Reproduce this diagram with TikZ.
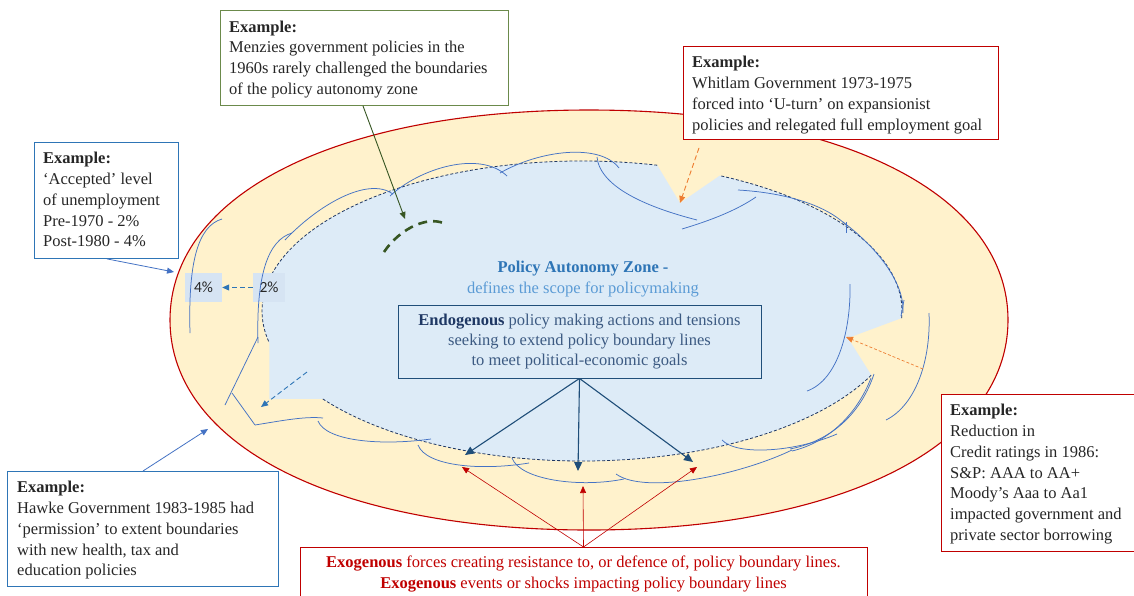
\documentclass[tikz,border=0pt]{standalone}
\usepackage{fontspec}
\setmainfont{Liberation Serif}
\newfontfamily\calfont{Carlito}
\usetikzlibrary{arrows.meta,calc}
\definecolor{yel}{HTML}{FFF2CC}
\definecolor{redC}{HTML}{C00000}
\definecolor{inblue}{HTML}{DDEBF7}
\definecolor{pctblue}{HTML}{D6E4F3}
\definecolor{navy}{HTML}{203864}
\definecolor{wave}{HTML}{4472C4}
\definecolor{bblue}{HTML}{2E75B6}
\definecolor{lblue}{HTML}{5B9BD5}
\definecolor{dgreen}{HTML}{375623}
\definecolor{boxgreen}{HTML}{6B8A4B}
\definecolor{orangeC}{HTML}{ED7D31}
\definecolor{txt}{HTML}{262626}
\definecolor{endo}{HTML}{1F4E79}
\definecolor{endotxt}{HTML}{3C5A82}
\definecolor{endobold}{HTML}{1F3864}
\begin{document}
\begin{tikzpicture}[x=1pt,y=-1pt,
  every node/.style={font=\fontsize{16.5}{20.8}\selectfont, text=txt},
  frame/.style={draw=#1, line width=0.9pt, fill=white, anchor=north west, inner sep=0pt},
  boxtext/.style={anchor=north west, align=left, inner sep=0pt},
  wav/.style={draw=wave, line width=0.75pt},
  tipS/.style={-{Triangle[length=7pt,width=6pt]}},
  tipL/.style={-{Triangle[length=9pt,width=8pt]}},
  pct/.style={fill=pctblue, inner sep=0pt, minimum height=29pt, font=\calfont\fontsize{15.5}{18}\selectfont},
  ell/.style={x radius=320, y radius=150},
]
\fill[white] (0,0) rectangle (1134,595);
\useasboundingbox (0,0) rectangle (1134,595);
\clip (0,0) rectangle (1134,595);

% outer zone
\filldraw[fill=yel, draw=redC, line width=1.1pt] (1008,320) .. controls (1008,446) and (840.4,530) .. (589,530) .. controls (337.6,530) and (170,446) .. (170,320) .. controls (170,194) and (337.6,110) .. (589,110) .. controls (840.4,110) and (1008,194) .. (1008,320) -- cycle;

% inner policy autonomy zone
\begin{scope}[shift={(582,311)}]
\fill[inblue] (283.6:320 and 150) arc[start angle=283.6,end angle=167.7,ell] -- (-312.6,88) -- (144.1:320 and 150) arc[start angle=144.1,end angle=25.3,ell] -- (266,27) -- (2.7:320 and 150) arc[start angle=2.7,end angle=-64.5,ell] -- (98,-108) -- cycle;
\draw[navy, line width=0.8pt, dash pattern=on 3pt off 2pt]
  (283.6:320 and 150) arc[start angle=283.6,end angle=167.7,ell]
  (144.1:320 and 150) arc[start angle=144.1,end angle=25.3,ell]
  (2.7:320 and 150) arc[start angle=2.7,end angle=-64.5,ell];
\end{scope}

% percentage labels
\node[pct, minimum width=37pt] (p4) at (203.5,287.5) {4\%};
\node[pct, minimum width=32pt] (p2) at (269,287.5) {2\%};

% boundary lines
\draw[wav] (222,219) .. controls (198,226) and (188,262) .. (190,333);
\draw[wav] (292,233) .. controls (268,240) and (256,275) .. (258,343);
\draw[wav] (285,240) .. controls (318,205) and (368,176) .. (393,194);
\draw[wav] (390,196) .. controls (420,168) and (480,150) .. (507,176);
\draw[wav] (500,173) .. controls (540,150) and (600,143) .. (619,168);
\draw[wav] (597,157) .. controls (600,188) and (650,208) .. (697,220);
\draw[wav] (682,229) .. controls (712,220) and (737,210) .. (756,197);
\draw[wav] (738,190) .. controls (790,193) and (828,207) .. (846,225);
\draw[wav] (846,222) -- (846,233);
\draw[wav] (843,222) .. controls (880,250) and (905,285) .. (903,313);
\draw[wav] (904,300) -- (901,316);
\draw[wav] (850,284) .. controls (851,330) and (838,380) .. (807,391);
\draw[wav] (929,313) .. controls (931,360) and (916,405) .. (886,420);
\draw[wav] (874,374) .. controls (862,410) and (835,440) .. (790,449);
\draw[wav] (871,378) .. controls (858,412) and (830,442) .. (792,451);
\draw[wav] (722,440) .. controls (737,456) and (795,452) .. (837,434);
\draw[wav] (616,474) .. controls (645,495) and (740,475) .. (792,450);
\draw[wav] (512,458) .. controls (520,480) and (580,488) .. (624,479);
\draw[wav] (418,445) .. controls (426,466) and (480,471) .. (529,463);
\draw[wav] (318,421) .. controls (326,441) and (380,446) .. (431,439);
\draw[wav] (255,425) .. controls (280,421) and (305,416) .. (323,418);
\draw[wav] (232,393) -- (255,425);
\draw[wav] (258,337) -- (225,405);

% green dashed boundary
\draw[dgreen, line width=2.6pt, dash pattern=on 9pt off 6pt] (384,252) .. controls (400,228) and (430,214) .. (447,225);

% central labels
\node[anchor=north, inner sep=0pt, align=center] (paz) at (583,261)
  {\textcolor{bblue}{\textbf{Policy Autonomy Zone -}}\\\textcolor{lblue}{defines the scope for policymaking}};
\node[draw=endo, line width=0.9pt, minimum width=363pt, minimum height=73pt, inner sep=0pt, align=center, text=endotxt, font=\fontsize{16.5}{20}\selectfont] (endo) at (579.5,341.5)
  {\textcolor{endobold}{\textbf{Endogenous}} policy making actions and tensions\\seeking to extend policy boundary lines\\to meet political-economic goals};
\node[draw=redC, line width=0.9pt, fill=white, minimum width=567pt, minimum height=53pt, inner sep=0pt, align=center, text=redC, anchor=north] (exo) at (583.5,547)
  {\textbf{Exogenous} forces creating resistance to, or defence of, policy boundary lines.\\\textbf{Exogenous} events or shocks impacting policy boundary lines};

% example boxes
\node[frame=boxgreen, minimum width=288pt, minimum height=95pt] (menzies) at (220,10) {};
\node[boxtext] (menziesT) at ($(menzies.north west)+(9,10.5)$)
  {\textbf{Example:}\\Menzies government policies in the\\1960s rarely challenged the boundaries\\of the policy autonomy zone};
\node[frame=redC, minimum width=315pt, minimum height=93pt] (whitlam) at (683,46) {};
\node[boxtext] (whitlamT) at ($(whitlam.north west)+(9,10)$)
  {\textbf{Example:}\\Whitlam Government 1973-1975\\forced into ‘U-turn’ on expansionist\\policies and relegated full employment goal};
\node[frame=bblue, minimum width=144pt, minimum height=116pt] (unemp) at (34,142) {};
\node[boxtext] (unempT) at ($(unemp.north west)+(9,10)$)
  {\textbf{Example:}\\‘Accepted’ level\\of unemployment\\Pre-1970 - 2\%\\Post-1980 - 4\%};
\node[frame=bblue, minimum width=271pt, minimum height=115pt] (hawke) at (7,471) {};
\node[boxtext] (hawkeT) at ($(hawke.north west)+(10,10)$)
  {\textbf{Example:}\\Hawke Government 1983-1985 had\\‘permission’ to extent boundaries\\with new health, tax and\\education policies};
\node[frame=redC, minimum width=200pt, minimum height=157pt] (credit) at (941,394) {};
\node[boxtext] (creditT) at ($(credit.north west)+(9,10)$)
  {\textbf{Example:}\\Reduction in\\Credit ratings in 1986:\\S\&P: AAA to AA+\\Moody’s Aaa to Aa1\\impacted government and\\private sector borrowing};

% arrow end points
\coordinate (t1) at (174,272);
\coordinate (t2) at (208,429);
\coordinate (d1) at (307,372);
\coordinate (d2) at (261,407);
\coordinate (g1) at (405,219);
\coordinate (o1) at (680,203);
\coordinate (o2s) at (923,369);
\coordinate (o2) at (846,337);
\coordinate (r1) at (462,467);
\coordinate (r2) at (583,486);
\coordinate (r3) at (697,467);
\coordinate (e1) at (465,455);
\coordinate (e2) at (578,471);
\coordinate (e3) at (693,462);

% connectors
\draw[bblue, line width=0.9pt, dash pattern=on 5pt off 3pt, tipS] (p2.west) -- (p4.east);
\draw[wave, line width=0.8pt, tipS] ($(unemp.south west)+(73,0)$) -- (t1);
\draw[wave, line width=0.8pt, tipS] ($(hawke.north west)+(136,0)$) -- (t2);
\draw[bblue, line width=0.9pt, dash pattern=on 5pt off 3pt, tipS] (d1) -- (d2);
\draw[dgreen, line width=0.9pt, tipS] ($(menzies.south west)+(143,0)$) -- (g1);
\draw[orangeC, line width=0.9pt, dash pattern=on 5pt off 3pt, tipS] ($(whitlam.south west)+(16,8)$) -- (o1);
\draw[orangeC, line width=0.7pt, dash pattern=on 3pt off 2pt, tipS] (o2s) -- (o2);
\foreach \t in {r1,r2,r3} \draw[redC, line width=0.6pt, tipS] (exo.north) -- (\t);
\foreach \t in {e1,e2,e3} \draw[endo, line width=1.1pt, tipL] (endo.south) -- (\t);
\end{tikzpicture}
\end{document}
